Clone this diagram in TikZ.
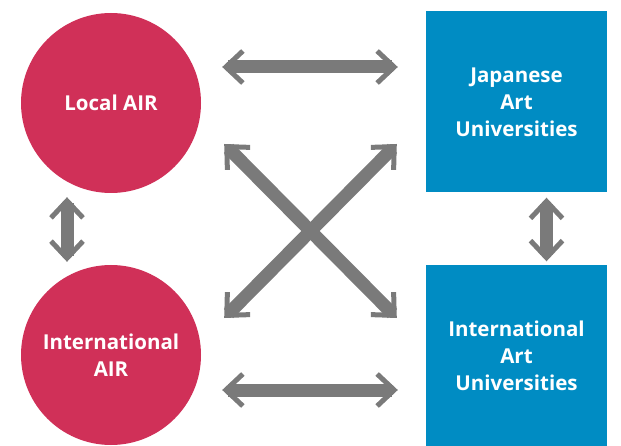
\documentclass[tikz,border=0pt]{standalone}
\usepackage{fontspec}
\setsansfont{Open Sans}
\usetikzlibrary{arrows.meta}
\definecolor{airred}{RGB}{208,48,88}
\definecolor{uniblue}{RGB}{0,140,195}
\colorlet{linkgray}{black!52}

\begin{document}
\begin{tikzpicture}[x=1pt,y=-1pt]
\tikzset{LabelFont/.style={text=white, align=center,
    font=\sffamily\bfseries\fontsize{20.5}{27}\selectfont},
  AirStyle/.style={LabelFont, shape=circle, minimum size=180pt, inner sep=0, fill=airred},
  UniStyle/.style={LabelFont, shape=rectangle, minimum size=181pt, inner sep=0, fill=uniblue},
  LinkStyle/.style={draw=linkgray, line width=13pt,
    >={Straight Barb[length=17pt, width=32pt, line width=5pt]}, <->}}
\useasboundingbox (0,0) rectangle (621,446);
% AIR side
\node[AirStyle] (local) at (111,103) {Local AIR};
\node[AirStyle] (intlair) at (111,355) {International\\AIR};
% university side
\node[UniStyle] (japan) at (516.5,102) {Japanese\\Art\\Universities};
\node[UniStyle] (intluni) at (516.5,356) {International\\Art\\Universities};
% links
\draw[LinkStyle] ([xshift=21pt,yshift=36pt]local.east) -- ([xshift=-28pt,yshift=35pt]japan.west);
\draw[LinkStyle] ([xshift=21pt,yshift=-35pt]intlair.east) -- ([xshift=-28pt,yshift=-34pt]intluni.west);
\draw[LinkStyle] ([xshift=-44pt,yshift=-4pt]local.south) -- ([xshift=-44pt,yshift=3pt]intlair.north);
\draw[LinkStyle] ([xshift=30pt,yshift=-5pt]japan.south) -- ([xshift=30pt,yshift=4pt]intluni.north);
\draw[LinkStyle] ([xshift=23pt,yshift=-41pt]local.east) -- ([xshift=-29pt,yshift=38pt]intluni.west);
\draw[LinkStyle] ([xshift=-29pt,yshift=-42pt]japan.west) -- ([xshift=23pt,yshift=37pt]intlair.east);
\end{tikzpicture}
\end{document}
